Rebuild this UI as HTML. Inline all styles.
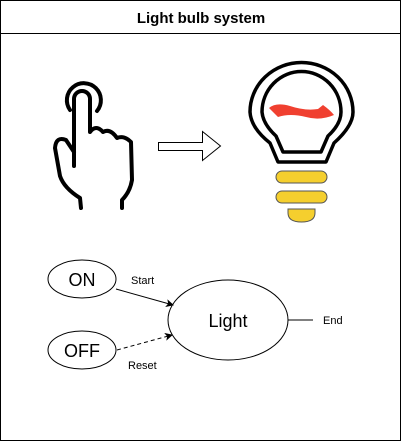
<!DOCTYPE html>
<html><head><meta charset="utf-8"><style>
html,body{margin:0;padding:0;background:#fff}
svg{display:block;font-family:"Liberation Sans",Arial,sans-serif}
</style></head><body>
<svg width="402" height="442" viewBox="0 0 402 442">
<rect x="0.5" y="0.5" width="400" height="440" fill="#fff" stroke="#000"/>
<line x1="0" y1="33.5" x2="401" y2="33.5" stroke="#000"/>
<text x="201" y="23" text-anchor="middle" font-weight="bold" font-size="15">Light bulb system</text>

<g fill="none" stroke="#000" stroke-width="4" stroke-linecap="round" stroke-linejoin="round">
<path d="M70,110 A17,17 0 1 1 97,111"/>
<path d="M74,166 L74,99 A8,8 0 0 1 90,99 L90,132 Q96,124 103,132 Q110,128 117,138 Q124,135 131,142 L132,180 Q130,192 122,200 L122,208"/>
<path d="M74,152 L66,140 Q56,136 55,148 L60,176 Q64,188 80,198 L81,208"/>
</g>

<path d="M158.5,142.5 L202.5,142.5 L202.5,131.5 L220.5,146 L202.5,160.5 L202.5,150.5 L158.5,150.5 Z" fill="#fff" stroke="#000"/>

<g>
<path d="M278,162 L326,162 L334,143 Q353,126 353,112 A51,49 0 1 0 250,112 Q251,128 270,143 Z" fill="none" stroke="#000" stroke-width="3.5" stroke-linejoin="round"/>
<path d="M283,152 L321,152 L328,136 Q341,124 341,112 A39,40 0 1 0 262,112 Q263,124 276,136 Z" fill="none" stroke="#000" stroke-width="3.5" stroke-linejoin="round"/>
<path d="M269,108 Q276,102 290,106 Q305,111 318,109 L323,105 Q330,110 334,115 Q320,121 306,117 Q290,113 278,117 Z" fill="#f04030"/>
<rect x="276" y="171" width="51" height="12" rx="6" fill="#f5cf2e" stroke="#555"/>
<rect x="276" y="191" width="51" height="12" rx="6" fill="#f5cf2e" stroke="#555"/>
<path d="M288,209 L315,209 L315,213 Q315,222 301.5,222 Q288,222 288,213 Z" fill="#f5cf2e" stroke="#555"/>
</g>

<defs><marker id="ah" markerWidth="8" markerHeight="8" refX="7" refY="4" orient="auto" markerUnits="userSpaceOnUse"><path d="M0,0 L8,4 L0,8 L2,4 Z" fill="#000"/></marker></defs>

<ellipse cx="82" cy="279" rx="34" ry="19" fill="#fff" stroke="#000"/>
<text x="82" y="286" text-anchor="middle" font-size="18">ON</text>
<ellipse cx="82" cy="350" rx="34" ry="19" fill="#fff" stroke="#000"/>
<text x="82" y="357" text-anchor="middle" font-size="18">OFF</text>
<ellipse cx="228" cy="320" rx="60" ry="40" fill="#fff" stroke="#000"/>
<text x="228" y="327" text-anchor="middle" font-size="18">Light</text>

<line x1="116" y1="289" x2="173" y2="305" stroke="#000" marker-end="url(#ah)"/>
<text x="131" y="284" font-size="11">Start</text>
<line x1="117" y1="350" x2="172" y2="335" stroke="#000" stroke-dasharray="4,3" marker-end="url(#ah)"/>
<text x="128" y="369" font-size="11">Reset</text>
<line x1="288" y1="320" x2="313" y2="320" stroke="#000"/>
<text x="323" y="324" font-size="11">End</text>
</svg>
</body></html>
